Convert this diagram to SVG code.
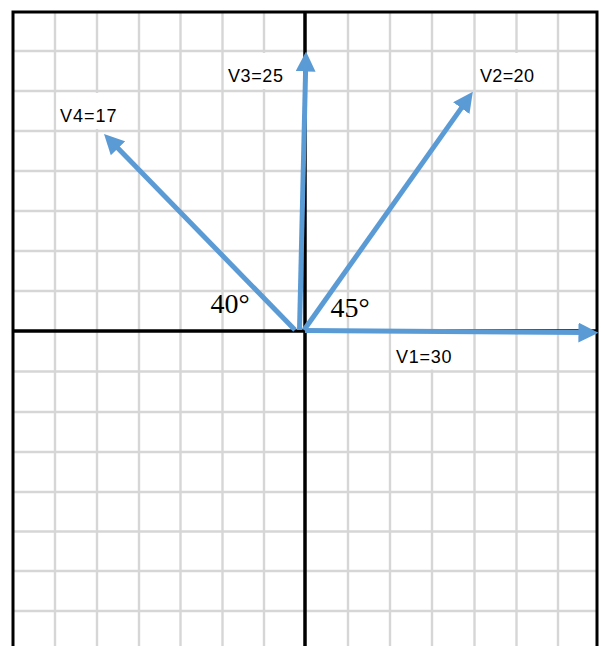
<svg xmlns="http://www.w3.org/2000/svg" width="601" height="646" viewBox="0 0 601 646">
<style>
.grid line{stroke:#d6d6d6;stroke-width:2.4}
.frame{stroke:#000;stroke-width:3;fill:none}
.axis{stroke:#000;stroke-width:3.5}
.vec{stroke:#5b9bd5;stroke-width:5;fill:none;marker-end:url(#ah)}
.box{fill:#fff}
.lbl{font-family:"Liberation Sans",Arial,sans-serif;font-size:18px;fill:#000}
.ang{font-family:"Liberation Serif","Times New Roman",serif;font-size:28px;fill:#000}
</style>
<defs>
<marker id="ah" markerUnits="userSpaceOnUse" markerWidth="20" markerHeight="20" viewBox="0 0 18 18" refX="5" refY="9" orient="auto">
<path d="M0,0 L18,9 L0,18 z" fill="#5b9bd5"/>
</marker>
</defs>
<rect width="601" height="646" fill="#fff"/>
<g class="grid">
<line x1="55" y1="12" x2="55" y2="646"/>
<line x1="97" y1="12" x2="97" y2="646"/>
<line x1="139" y1="12" x2="139" y2="646"/>
<line x1="180.5" y1="12" x2="180.5" y2="646"/>
<line x1="222.5" y1="12" x2="222.5" y2="646"/>
<line x1="264" y1="12" x2="264" y2="646"/>
<line x1="348" y1="12" x2="348" y2="646"/>
<line x1="390" y1="12" x2="390" y2="646"/>
<line x1="432" y1="12" x2="432" y2="646"/>
<line x1="474.5" y1="12" x2="474.5" y2="646"/>
<line x1="516.5" y1="12" x2="516.5" y2="646"/>
<line x1="558" y1="12" x2="558" y2="646"/>
<line x1="13" y1="51" x2="598" y2="51"/>
<line x1="13" y1="91" x2="598" y2="91"/>
<line x1="13" y1="131" x2="598" y2="131"/>
<line x1="13" y1="171" x2="598" y2="171"/>
<line x1="13" y1="211" x2="598" y2="211"/>
<line x1="13" y1="251" x2="598" y2="251"/>
<line x1="13" y1="291" x2="598" y2="291"/>
<line x1="13" y1="371.5" x2="598" y2="371.5"/>
<line x1="13" y1="412" x2="598" y2="412"/>
<line x1="13" y1="452" x2="598" y2="452"/>
<line x1="13" y1="492" x2="598" y2="492"/>
<line x1="13" y1="531.5" x2="598" y2="531.5"/>
<line x1="13" y1="571" x2="598" y2="571"/>
<line x1="13" y1="611" x2="598" y2="611"/>
</g>
<g id="frame">
<path class="frame" d="M13,646 V12 H597 V646"/>
<line class="axis" x1="13" y1="331" x2="598" y2="331"/>
<line class="axis" x1="305" y1="12" x2="305" y2="646"/>
</g>
<g id="label-boxes">
<rect class="box" x="56.5" y="93" width="79" height="36"/>
<rect class="box" x="224" y="53" width="78" height="36"/>
<rect class="box" x="476" y="53" width="64" height="36"/>
<rect class="box" x="391.5" y="333.5" width="79" height="36"/>
</g>
<g id="connectors">
<path id="v1" class="vec" d="M305,330.5 L584,332.6"/>
<path id="v2" class="vec" d="M304,330 L464.5,103.6"/>
<path id="v3" class="vec" d="M299.5,330 L305.7,66"/>
<path id="v4" class="vec" d="M295,330 L114.1,144.3"/>
</g>
<g id="V1"><text class="lbl" x="396" y="363.3" textLength="55.5" lengthAdjust="spacing">V1=30</text></g>
<g id="V2"><text class="lbl" x="480" y="81.7" textLength="54" lengthAdjust="spacing">V2=20</text></g>
<g id="V3"><text class="lbl" x="228" y="81.7" textLength="55" lengthAdjust="spacing">V3=25</text></g>
<g id="V4"><text class="lbl" x="60" y="121.7" textLength="56.5" lengthAdjust="spacing">V4=17</text></g>
<g id="angle40"><text class="ang" x="210.5" y="313">40°</text></g>
<g id="angle45"><text class="ang" x="330.5" y="317">45°</text></g>
</svg>
